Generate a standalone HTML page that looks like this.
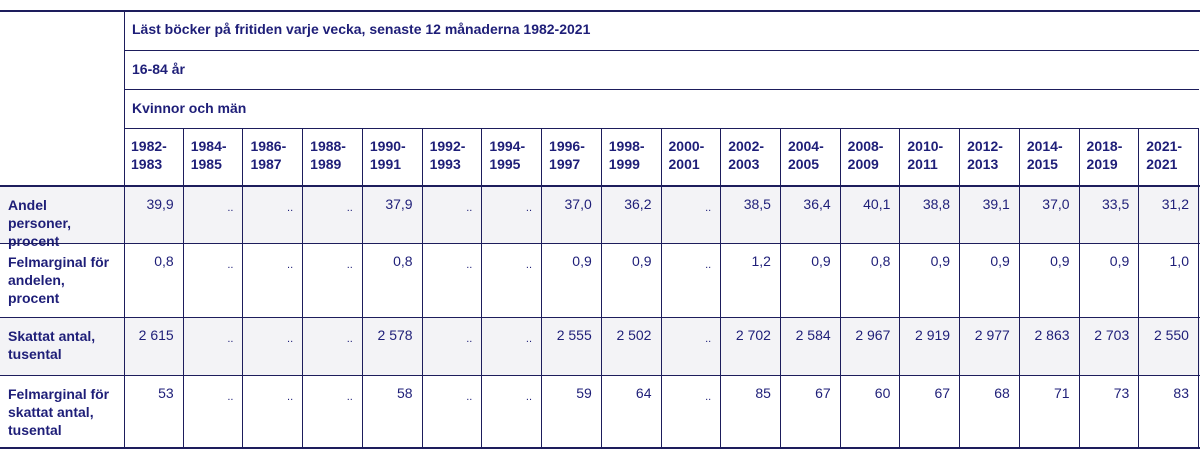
<!DOCTYPE html>
<html><head><meta charset="utf-8"><style>
body{margin:0;background:#fff;width:1200px;height:454px;overflow:hidden;position:relative;font-family:"Liberation Sans",sans-serif;color:#1e1e78}
.c{position:absolute;box-sizing:border-box;font-size:14px;line-height:18px}
.h{font-weight:bold}
.l{position:absolute;background:#1d1d5c}
</style></head><body>
<div id="t"></div>
<script>
const years=["1982-1983","1984-1985","1986-1987","1988-1989","1990-1991","1992-1993","1994-1995","1996-1997","1998-1999","2000-2001","2002-2003","2004-2005","2008-2009","2010-2011","2012-2013","2014-2015","2018-2019","2021-2021"];
const rowLabels=["Andel personer, procent","Felmarginal för andelen, procent","Skattat antal, tusental","Felmarginal för skattat antal, tusental"];
const andel=["39,9","..","..","..","37,9","..","..","37,0","36,2","..","38,5","36,4","40,1","38,8","39,1","37,0","33,5","31,2"];
const felAndel=["0,8","..","..","..","0,8","..","..","0,9","0,9","..","1,2","0,9","0,8","0,9","0,9","0,9","0,9","1,0"];
const antal=["2 615","..","..","..","2 578","..","..","2 555","2 502","..","2 702","2 584","2 967","2 919","2 977","2 863","2 703","2 550"];
const felAntal=["53","..","..","..","58","..","..","59","64","..","85","67","60","67","68","71","73","83"];
const series=[andel,felAndel,antal,felAntal];
const t=document.getElementById('t');
const x0=124,x1=1199,cw=(x1-x0)/years.length;
const rowY=[186,243,317,375,448];
function cell(x,y,w,h,txt,cls,name){const d=document.createElement('div');d.className='c '+cls;d.style.left=x+'px';d.style.top=y+'px';d.style.width=w+'px';d.style.height=h+'px';d.innerHTML=txt;


t.appendChild(d);return d;}
function line(x,y,w,h,name){const d=document.createElement('div');d.className='l';d.style.left=x+'px';d.style.top=y+'px';d.style.width=w+'px';d.style.height=h+'px';


t.appendChild(d);}
[0,2].forEach(r=>{const g=document.createElement('div');g.style.cssText='position:absolute;left:0;width:1200px;background:#f3f3f6;top:'+rowY[r]+'px;height:'+(rowY[r+1]-rowY[r])+'px';


t.appendChild(g);});
cell(x0+8,10,1000,40,'Läst böcker på fritiden varje vecka, senaste 12 månaderna 1982-2021','h','table-title').style.paddingTop='10px';
cell(x0+8,50,400,39,'16-84 år','h','age-header').style.paddingTop='10px';
cell(x0+8,89,400,39,'Kvinnor och män','h','sex-header').style.paddingTop='10px';
years.forEach((y,i)=>{const d=cell(x0+i*cw+7,128,cw-8,58,y.replace('-','-<br>'),'h','year-header');d.style.paddingTop='9px';});
rowLabels.forEach((lb,r)=>{const d=cell(8,rowY[r],104,rowY[r+1]-rowY[r],lb,'h','row-label');d.style.paddingTop='10px';});
series.forEach((s,r)=>s.forEach((v,i)=>{const d=cell(x0+i*cw,rowY[r],cw-10,30,v,'','value-cell');d.style.textAlign='right';d.style.paddingTop=(v==='..'?'13px':'9px');if(v==='..')d.style.fontSize='11px';}));
line(0,10,1200,1.5,'top-border');
[50,89,128].forEach(y=>line(x0,y,x1-x0,1,'header-rule'));
line(0,185,1200,2,'header-bottom-rule');
[243,317,375].forEach(y=>line(0,y,1200,1,'row-rule'));
line(0,447,1200,2,'bottom-border');
line(x0,10,1,438,'stub-divider');
for(let i=1;i<=years.length;i++){line(Math.round(x0+i*cw)-1,128,1,320,'column-rule');}
</script>
</body></html>
